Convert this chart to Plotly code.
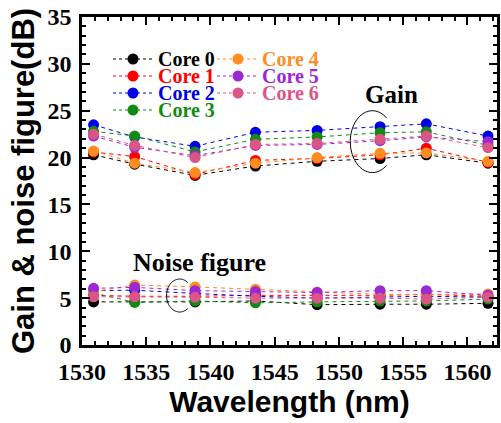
import numpy as np
import plotly.graph_objects as go

# ---------------- data ----------------
wavelength = [1530.9, 1534.1, 1538.8, 1543.5, 1548.3, 1553.2, 1556.8, 1561.6]
core_names = ["Core 0", "Core 1", "Core 2", "Core 3", "Core 4", "Core 5", "Core 6"]
core_colors = ["#000000", "#FF0000", "#0000E6", "#138A13", "#FF8C21", "#9B27D6", "#DB5587"]

gain_core0 = [20.3, 19.3, 18.1, 19.1, 19.6, 19.9, 20.3, 19.4]
gain_core1 = [20.6, 20.1, 18.2, 19.7, 19.9, 20.3, 21.0, 19.5]
gain_core2 = [23.5, 22.2, 21.2, 22.7, 22.9, 23.3, 23.6, 22.3]
gain_core3 = [22.8, 22.3, 20.6, 21.95, 22.2, 22.65, 22.75, 21.3]
gain_core4 = [20.7, 19.4, 18.4, 19.4, 20.0, 20.45, 20.5, 19.6]
gain_core5 = [22.3, 21.1, 20.2, 21.3, 21.4, 21.8, 22.2, 21.7]
gain_core6 = [22.5, 21.3, 20.0, 21.4, 21.5, 21.95, 22.3, 21.05]

nf_core0 = [4.6, 4.6, 4.6, 4.7, 4.3, 4.35, 4.35, 4.45]
nf_core1 = [5.3, 5.2, 5.2, 5.3, 5.3, 5.3, 5.4, 5.2]
nf_core2 = [5.8, 5.85, 5.5, 5.2, 5.0, 5.1, 5.2, 5.1]
nf_core3 = [5.55, 4.55, 4.7, 4.5, 4.6, 4.7, 4.7, 4.9]
nf_core4 = [5.7, 6.4, 6.2, 5.95, 5.65, 5.4, 5.4, 5.45]
nf_core5 = [6.05, 6.15, 5.8, 5.7, 5.6, 5.8, 5.8, 5.3]
nf_core6 = [5.15, 5.15, 5.1, 5.0, 5.0, 5.0, 4.9, 5.1]

gains = [gain_core0, gain_core1, gain_core2, gain_core3, gain_core4, gain_core5, gain_core6]
nfs = [nf_core0, nf_core1, nf_core2, nf_core3, nf_core4, nf_core5, nf_core6]

x_range = [1530, 1562.3]
y_range = [0, 35]
x_tickvals = [1530, 1535, 1540, 1545, 1550, 1555, 1560]
y_tickvals = [0, 5, 10, 15, 20, 25, 30, 35]

# ---------------- layout geometry ----------------
W, H = 501, 423
ML, MR, MT, MB = 82, 4, 17, 78
PW, PH = W - ML - MR, H - MT - MB

def px(xp):
    return (xp - ML) / PW

def py(yp):
    return (H - MB - yp) / PH

SERIF = "Liberation Serif"
SANS = "Liberation Sans"

fig = go.Figure()

for name, color, g in zip(core_names, core_colors, gains):
    fig.add_trace(go.Scatter(
        x=wavelength, y=g, mode="lines+markers", name=name,
        line=dict(color=color, width=1, dash="4px,4px"),
        marker=dict(color=color, size=11),
        showlegend=False,
    ))
for name, color, n in zip(core_names, core_colors, nfs):
    fig.add_trace(go.Scatter(
        x=wavelength, y=n, mode="lines+markers", name=name + " NF",
        line=dict(color=color, width=1, dash="4px,4px"),
        marker=dict(color=color, size=11),
        showlegend=False,
    ))

shapes = []
annotations = []

# manual two-column legend
rows_y = [59, 76, 93, 110]
cols = [(113, 155, 133, 157), (217, 259, 238, 261)]
for i, (name, color) in enumerate(zip(core_names, core_colors)):
    col = 0 if i < 4 else 1
    row = i if i < 4 else i - 4
    x0, x1, xm, xt = cols[col]
    yy = rows_y[row]
    shapes.append(dict(type="line", xref="paper", yref="paper",
                       x0=px(x0), x1=px(x1), y0=py(yy), y1=py(yy),
                       line=dict(color=color, width=1, dash="3px,3px")))
    shapes.append(dict(type="circle", xref="paper", yref="paper",
                       xsizemode="pixel", ysizemode="pixel",
                       xanchor=px(xm), yanchor=py(yy),
                       x0=-5.5, x1=5.5, y0=-5.5, y1=5.5,
                       fillcolor=color, line=dict(color=color, width=0)))
    annotations.append(dict(xref="paper", yref="paper", x=px(xt), y=py(yy),
                            xanchor="left", yanchor="middle", showarrow=False,
                            text="<b>%s</b>" % name, borderpad=0,
                            font=dict(family=SERIF, size=20, color=color)))

# labels
annotations.append(dict(xref="paper", yref="paper", x=px(391), y=py(94),
                        xanchor="center", yanchor="middle", showarrow=False,
                        text="<b>Gain</b>", font=dict(family=SERIF, size=25, color="black")))
annotations.append(dict(xref="paper", yref="paper", x=px(199), y=py(262),
                        xanchor="center", yanchor="middle", showarrow=False,
                        text="<b>Noise figure</b>", font=dict(family=SERIF, size=26, color="black")))

# open ellipse arcs (decorative brackets)
def arc_path(cx, cy, rx, ry, a0, a1, n=60):
    t = np.radians(np.linspace(a0, a1, n))
    xs = cx + rx * np.cos(t)
    ys = cy + ry * np.sin(t)
    return "M " + " L ".join("%.4f,%.4f" % (a, b) for a, b in zip(xs, ys))

shapes.append(dict(type="path", xref="x", yref="y",
                   path=arc_path(1552.6, 21.7, 1.72, 3.3, 50, 310),
                   line=dict(color="black", width=1)))
shapes.append(dict(type="path", xref="x", yref="y",
                   path=arc_path(1537.6, 5.28, 1.02, 1.76, 52, 308),
                   line=dict(color="black", width=1)))

tickfont = dict(family="Liberation Serif", size=24, color="black", weight=700)

fig.update_layout(
    width=W, height=H,
    margin=dict(l=ML, r=MR, t=MT, b=MB),
    paper_bgcolor="white", plot_bgcolor="white",
    font=dict(family=SERIF, size=24, color="black"),
    showlegend=False,
    shapes=shapes, annotations=annotations,
    xaxis=dict(
        range=x_range, tickmode="array", tickvals=x_tickvals,
        ticktext=[str(v) for v in x_tickvals], tickangle=0,
        showline=True, linecolor="black", linewidth=2.5, mirror="ticks",
        ticks="inside", ticklen=8, tickwidth=2, tickcolor="black",
        showgrid=False, zeroline=False, automargin=False,
        minor=dict(dtick=1, tick0=1530, ticks="inside", ticklen=4, tickwidth=1.5, tickcolor="black", showgrid=False),
        tickfont=tickfont, ticklabelstandoff=3,
        title=dict(text="<b>Wavelength (nm)</b>", standoff=4,
                   font=dict(family=SANS, size=30, color="black")),
    ),
    yaxis=dict(
        range=y_range, tickmode="array", tickvals=y_tickvals,
        ticktext=[str(v) for v in y_tickvals],
        showline=True, linecolor="black", linewidth=2.5, mirror="ticks",
        ticks="inside", ticklen=8, tickwidth=2, tickcolor="black",
        showgrid=False, zeroline=False, automargin=False,
        minor=dict(dtick=1, tick0=0, ticks="inside", ticklen=4, tickwidth=1.5, tickcolor="black", showgrid=False),
        tickfont=tickfont, ticklabelstandoff=3,
        title=dict(text="<b>Gain & noise figure(dB)</b>", standoff=4,
                   font=dict(family=SANS, size=31, color="black")),
    ),
)

fig.write_html("out.html")
